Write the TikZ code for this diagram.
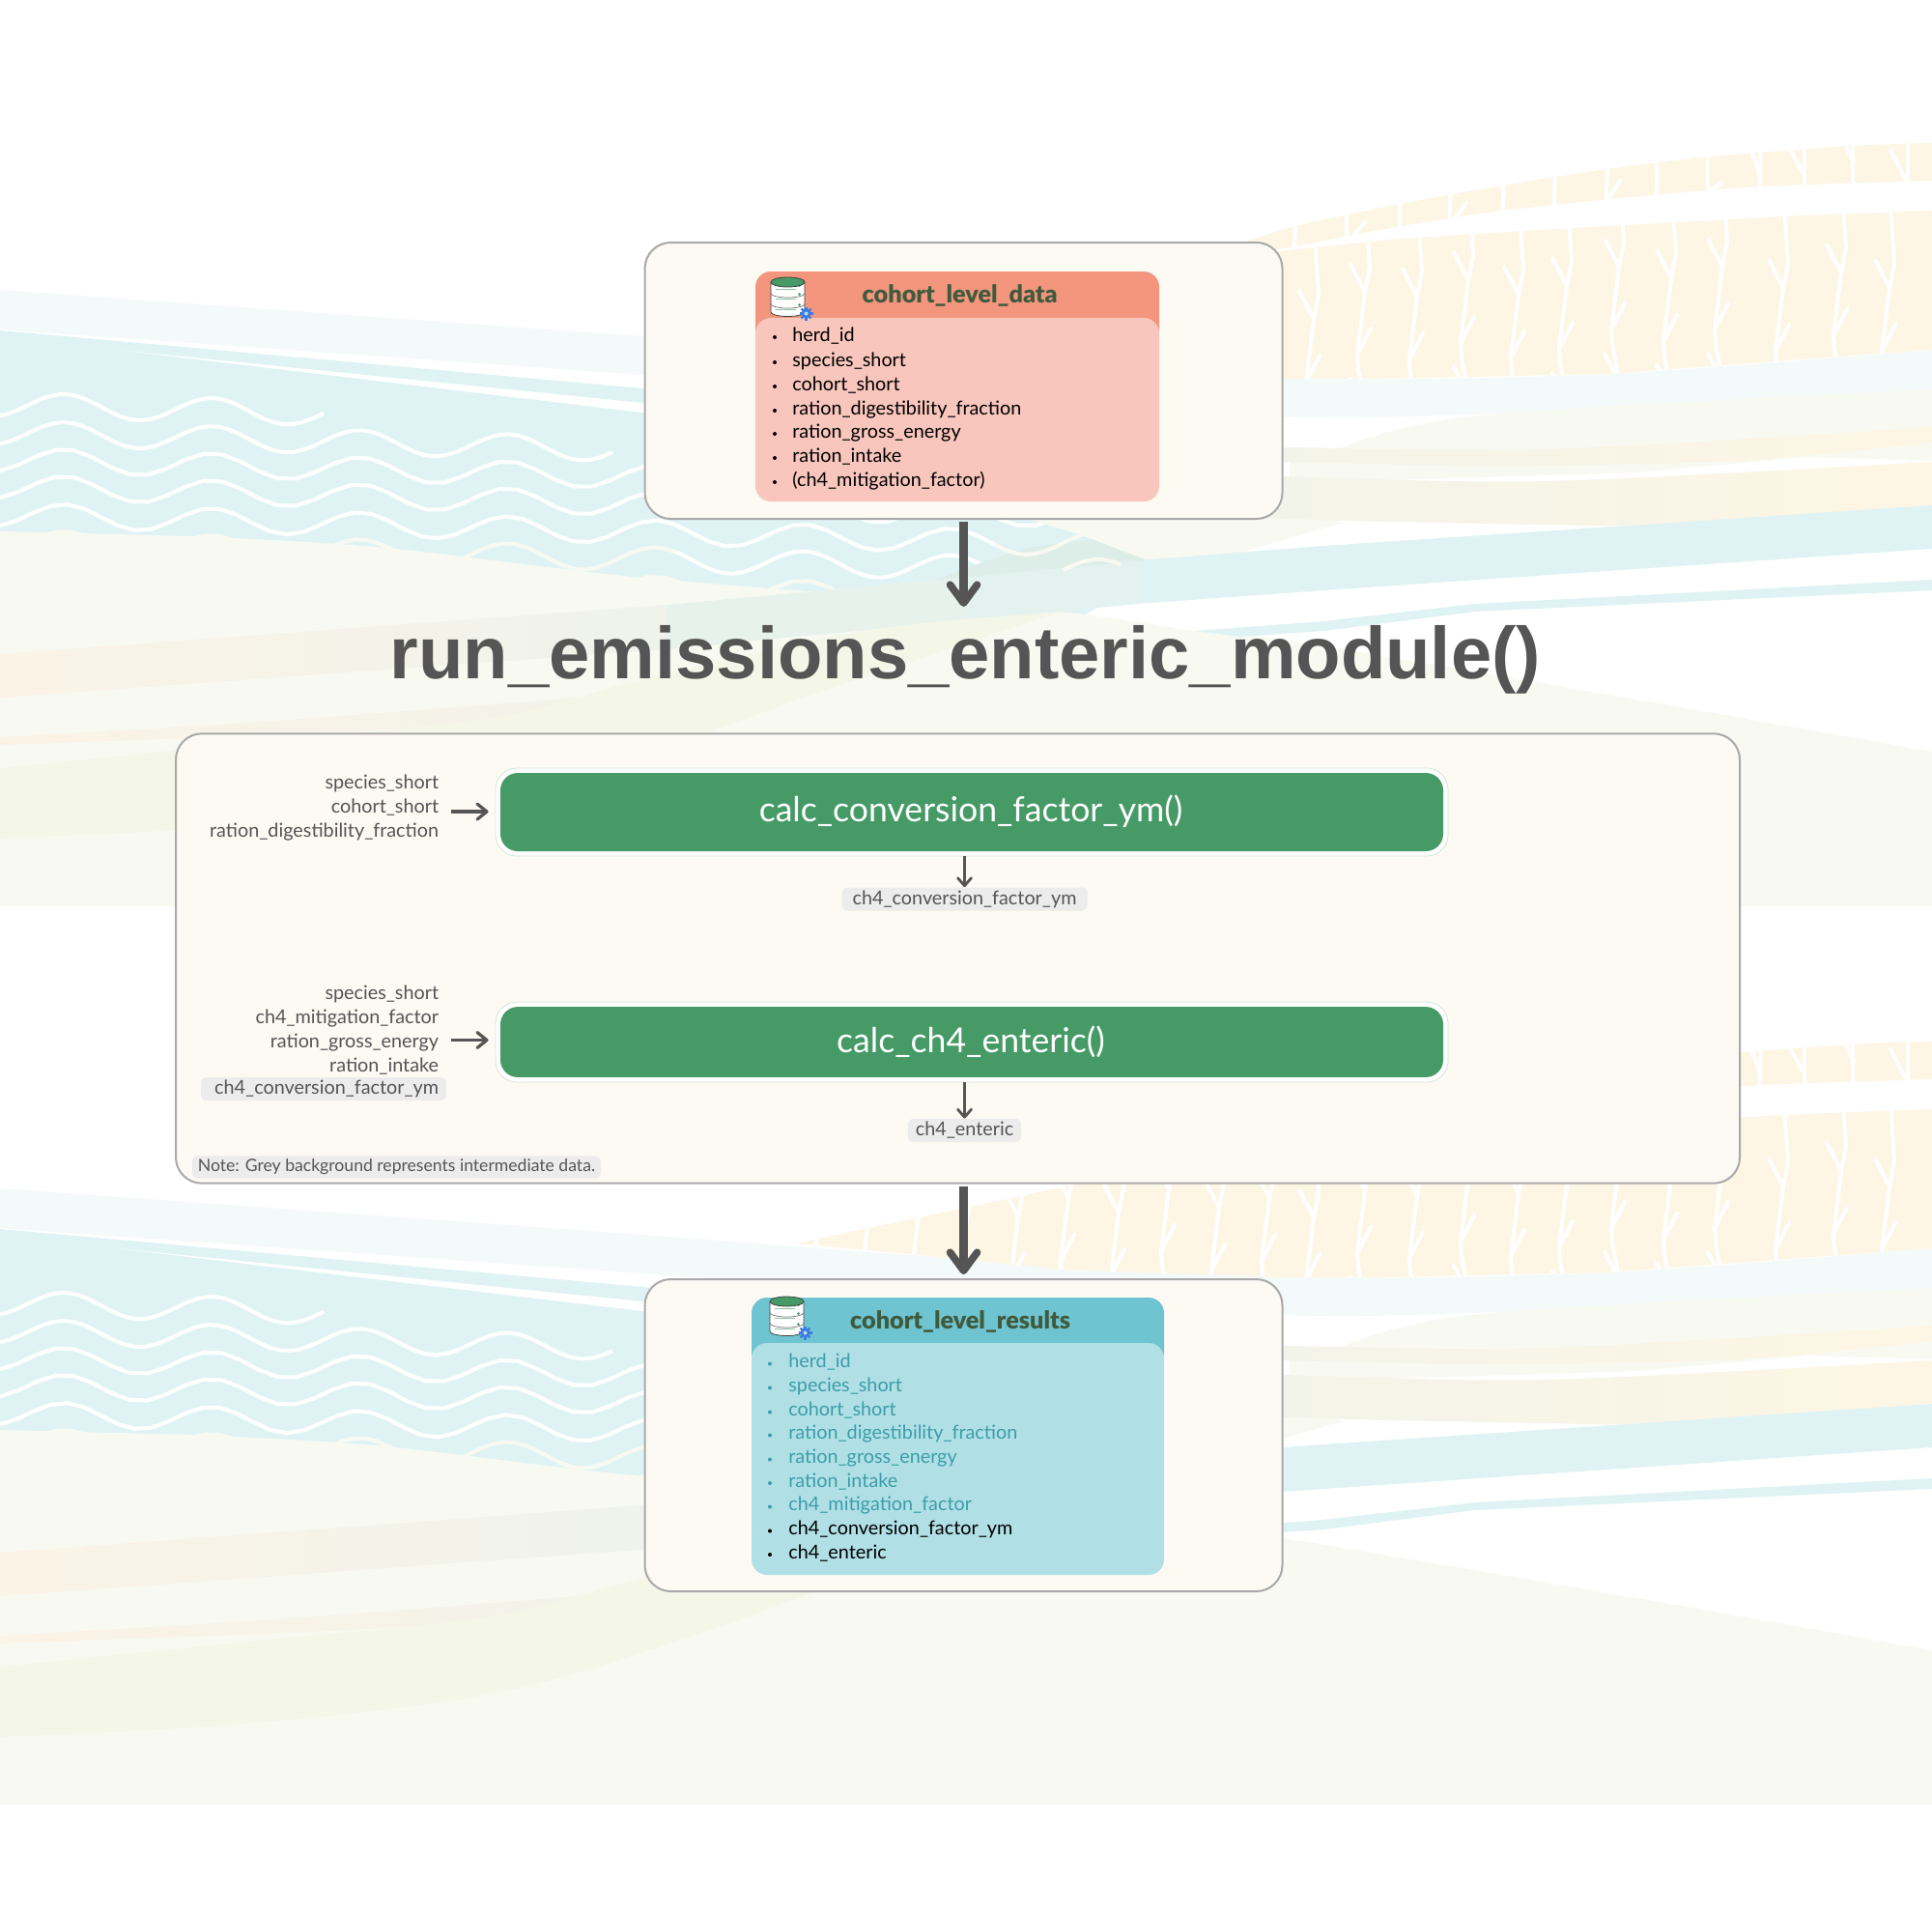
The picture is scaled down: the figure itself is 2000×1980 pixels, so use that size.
\documentclass[tikz,border=0pt]{standalone}
\usepackage{fontspec}
\usetikzlibrary{arrows.meta}
\setmainfont{Lato}
\newfontfamily\titlefont{Liberation Sans}[UprightFont=* Bold]
\newfontfamily\headfont{Lato}[UprightFont=* Black]
\definecolor{paleblue}{HTML}{F3FAF9}
\definecolor{mainblue}{HTML}{DFF3F5}
\definecolor{sand}{HTML}{F8FAF2}
\definecolor{leaf}{HTML}{F4F7E8}
\definecolor{apricot}{HTML}{FEF6E4}
\definecolor{bandL}{HTML}{FBF3E6}
\definecolor{bandR}{HTML}{EFF3EB}
\definecolor{bandM}{HTML}{E8F2EC}
\definecolor{bandN}{HTML}{E3F2EE}
\definecolor{darktri}{HTML}{DDEDE8}
\definecolor{boxfill}{HTML}{FDFAF4}
\definecolor{boxline}{HTML}{A9A9A9}
\definecolor{ink}{HTML}{555555}
\definecolor{funcgreen}{HTML}{469A66}
\definecolor{headred}{HTML}{F4957D}
\definecolor{bodyred}{HTML}{F8C6BC}
\definecolor{headblue}{HTML}{6EC4D1}
\definecolor{bodyblue}{HTML}{B0E0E6}
\definecolor{tealink}{HTML}{3C9DA8}
\definecolor{headink}{HTML}{3F5A3C}
\definecolor{tagfill}{HTML}{ECECEC}
\definecolor{gearblue}{HTML}{3B7DDD}
\tikzset{
  x=0.5pt,y=-0.5pt,
  panel/.style={draw=boxline,line width=1pt,fill=boxfill,rounded corners=13.5pt,inner sep=0pt},
  funcbox/.style={fill=funcgreen,rounded corners=9pt,inner sep=0pt},
  functext/.style={inner sep=0pt,text=white,font=\fontsize{17.8}{20}\selectfont},
  funcring/.style={draw=funcgreen!25,line width=0.4pt,fill=white,rounded corners=11pt,inner sep=0pt},
  listitem/.style={anchor=base west,inner sep=0pt,font=\fontsize{9.9}{12}\selectfont},
  inlabel/.style={anchor=base east,inner sep=0pt,text=ink,font=\fontsize{9.9}{12}\selectfont},
  tag/.style={fill=tagfill,rounded corners=3pt,inner sep=0pt,text=ink,font=\fontsize{9.9}{12}\selectfont},
  bigarrow/.style={draw=ink,line width=4.6pt,-{Straight Barb[length=9.5pt,width=14pt,line width=3.8pt,round]}},
  smallarrow/.style={draw=ink,line width=1.7pt,shorten >=3.5pt,-{Straight Barb[length=5pt,width=8pt,line width=1.6pt,round]}},
  downarrow/.style={draw=ink,line width=1.5pt,-{Straight Barb[length=4pt,width=7pt,line width=1.4pt,round]}},
  wave/.style={line width=2pt},
  twig/.style={draw=white,line width=2pt,line cap=round,line join=round},
}
\newcommand{\wavepart}[4]{% row, from, to, colour
  \draw[wave,draw=#4] plot[domain=#2:#3,samples=60] (\x,{#1+12.5+0.027*(\x-67)-12.5*cos((\x-67)*2.353)});
}
\newcommand{\treeunit}[2]{%
  \draw[twig] ({#1-3},{#2-145}) -- ({#1+5},{#2-25}) -- (#1,#2) -- ({#1-8},{#2+65}) -- ({#1-7},{#2+80}) -- (#1,{#2+118}) -- ({#1+3},{#2+160});
  \draw[twig] ({#1-14.5},{#2-28}) -- (#1,#2);
  \draw[twig] ({#1-8},{#2+65}) -- ({#1+6},{#2+38});
  \draw[twig] ({#1-15},{#2+90}) -- (#1,{#2+118});
}
\newcommand{\bgtile}{%
  \begin{scope}
  \clip (0,0) rectangle (2000,937);
  % pale blue band
  \fill[paleblue] plot[smooth,tension=.5] coordinates {(0,300) (665,348) (982,372) (1335,392) (1664,387) (2000,362)}
     -- plot[smooth,tension=.5] coordinates {(2000,403) (1800,417) (1400,432) (1100,420) (665,388) (0,341)} -- cycle;
  % main blue
  \fill[mainblue] (0,342) -- (665,402) -- (1130,460) -- (1250,560) -- (1100,650) -- (0,650) -- cycle;
  % white streak
  \fill[white] (120,362) -- (665,417) -- (800,435) -- (665,427) -- cycle;
  % waves
  \wavepart{408}{0}{335}{white}
  \wavepart{437}{0}{634}{white}
  \wavepart{465}{0}{1130}{white}
  \wavepart{493}{0}{1130}{white}
  \wavepart{522}{0}{1030}{white}
  \wavepart{550}{0}{700}{sand}
  \wavepart{550}{700}{1040}{white}
  \wavepart{580}{0}{1100}{sand}
  % apricot bands with trees
  \begin{scope}
    \clip plot[smooth,tension=.5] coordinates {(1290,250) (1345,233) (1455,210) (1550,193) (1664,175) (1773,162) (1918,151) (2000,148)}
      -- (2000,187) -- plot[smooth,tension=.5] coordinates {(2000,187) (1823,193) (1709,202) (1555,218) (1445,235) (1323,258) (1290,262)} -- cycle;
    \fill[apricot] (1280,140) rectangle (2000,270);
    \foreach \tx/\ty/\bx in {1343/205/1339,1395/190/1393,1450/175/1448,1502/165/1500,1557/160/1555,1610/150/1608,1665/140/1661,1716/135/1714,1768/125/1767,1823/125/1821,1868/120/1868,1918/120/1918,1975/120/1975}{
      \draw[twig] (\tx,\ty) -- (\bx,270);
    }
    \draw[twig] (1400,245) -- (1413,230);
    \draw[twig] (1505,228) -- (1518,210);
    \draw[twig] (1664,207) -- (1677,187);
    \draw[twig] (1770,197) -- (1782,190);
    \draw[twig] (1555,193) -- (1557,202);
    \draw[twig] (1814,158) -- (1822,182);
    \draw[twig] (1853,155) -- (1866,178);
    \draw[twig] (1911,152) -- (1919,168);
    \draw[twig] (1957,156) -- (1972,185);
  \end{scope}
  \begin{scope}
    \clip (824,357) -- (1132,292) -- (1323,260) -- (1450,247) -- (1609,237) -- (1755,229) -- (1868,223) -- (2000,218)
       -- (2000,362) -- (1664,387) -- (1436,392) -- (1327,392) -- (1100,384) -- (982,372) -- cycle;
    \fill[apricot] (800,210) rectangle (2000,400);
    \foreach \jx/\jy in {846/345,898/340,950/335,1002/325,1054/330,1106/310,1158/325,1210/300,1262/320,1314/310,1360/330,1413/302,1467/307,1520/290,1572/305,1622/296,1676/276,1730/288,1783/276,1846/298,1906/282,1956/298}{
      \treeunit{\jx}{\jy}
    }
  \end{scope}
  % sand hill
  \fill[sand] plot[smooth,tension=.4] coordinates {(0,550) (220,556) (400,567) (665,598) (1097,633) (1237,653) (1335,663) (1700,725) (2000,778)} -- (2000,950) -- (0,950) -- cycle;
  % sand wedge under the top box
  \fill[sand] (1040,530) -- (1117,553) -- (1188,581) -- (1283,572) -- (1390,541) -- (1335,520) -- (1040,520) -- cycle;
  \fill[sand] plot[smooth,tension=.5] coordinates {(1390,463) (1530,430) (2000,403)} -- (2000,480) -- (1335,500) -- (1335,470) -- cycle;
  \fill[white] (1600,498) -- (1870,473) -- (2000,477) -- (2000,500) -- cycle;
  % right ochre bands
  \shade[left color=bandR,right color=apricot] plot[smooth,tension=.5] coordinates {(1080,460) (1330,463) (1600,465) (2000,442)}
    -- plot[smooth,tension=.5] coordinates {(2000,458) (1800,477) (1550,482) (1330,478) (1080,470)} -- cycle;
  \shade[left color=bandR,right color=apricot] plot[smooth,tension=.5] coordinates {(1080,485) (1330,493) (1600,498) (2000,478)}
    -- plot[smooth,tension=.5] coordinates {(2000,523) (1700,543) (1600,543) (1330,537) (1080,525)} -- cycle;
  % long band: apricot at the left, blue at the right
  \shade[left color=bandL,right color=bandR] (0,677) -- (690,626) -- (690,672) -- (0,722) -- cycle;
  \fill[bandM] (690,626) -- (950,602) -- (1000,597) -- (1000,642) -- (950,647) -- (690,672) -- cycle;
  \fill[bandN] (1000,597) -- (1177,580) -- (1177,625) -- (1097,633) -- (1000,642) -- cycle;
  \fill[mainblue!94!bandN] (1177,580) -- (1370,565) -- (2000,523) -- (2000,568) -- (1370,611) -- (1177,625) -- cycle;
  % darker triangle over the band
  \fill[darktri] (970,600) -- (1022,580) -- (1063,567) -- (1130,558) -- (1188,580) -- (1000,597) -- cycle;
  % waves seen through the band
  \wavepart{522}{1030}{1120}{sand}
  \wavepart{550}{1100}{1160}{sand}
  % band D
  \fill[mainblue] (1237,653) -- (1370,643) -- (1527,625) -- (2000,600) -- (2000,611) -- (1527,633) -- (1370,653) -- (1283,659) -- cycle;
  % second left band
  \shade[left color=bandL,right color=bandR] plot[smooth,tension=.5] coordinates {(0,763) (300,745) (670,716) (900,695)}
     -- plot[smooth,tension=.5] coordinates {(900,697) (670,730) (400,755) (0,771)} -- cycle;
  % leaf lens
  \fill[leaf] plot[smooth,tension=.6] coordinates {(0,795) (255,769) (510,743) (670,702) (900,652) (1097,634)}
     -- plot[smooth,tension=.6] coordinates {(1097,634) (855,714) (700,769) (510,823) (255,854) (0,868)} -- cycle;
  \end{scope}
}
\newcommand{\dbicon}[2]{%
  \begin{scope}[shift={(#1,#2)}]
    \draw[black!75,line width=0.4pt,fill=white] (-17.5,-15) -- (-17.5,15.5) arc[start angle=180,end angle=360,x radius=17.5,y radius=-4.5] -- (17.5,-15) -- cycle;
    \foreach \yy in {-4,7}{
      \draw[black!55,line width=0.35pt] (-17.5,\yy) arc[start angle=180,end angle=360,x radius=17.5,y radius=-4.5];
      \draw[funcgreen!60,line width=0.3pt] (-13,{\yy+6}) -- (8,{\yy+6});
      \fill[funcgreen] (12,{\yy+1}) circle[radius=1.5];
    }
    \fill[funcgreen] (12,-12) circle[radius=1.5];
    \draw[funcgreen!60,line width=0.3pt] (-13,-8) -- (8,-8);
    \draw[black!75,line width=0.4pt,fill=funcgreen] (0,-15.5) ellipse[x radius=17.5,y radius=5];
    \fill[gearblue] (19,17) circle[radius=5];
    \foreach \a in {0,45,...,315}{\draw[gearblue,line width=1.1pt] (19,17) -- ++(\a:7);}
    \fill[white!70!gearblue] (19,17) circle[radius=2];
  \end{scope}
}
\begin{document}
\begin{tikzpicture}
\useasboundingbox (0,0) rectangle (2000,1980);
\fill[white] (0,0) rectangle (2000,1980);
\bgtile
\begin{scope}[shift={(0,930)}]\bgtile\end{scope}

% top panel
\node[panel,minimum width=330pt,minimum height=143pt] (src) at (997.5,394) {};
\fill[headred,rounded corners=8pt] (782,281) rectangle (1200,358);
\node[fill=bodyred,rounded corners=8pt,inner sep=0pt,minimum width=209pt,minimum height=95pt] (srcbody) at (991,424) {};
\dbicon{815.5}{307.5}
\node[inner sep=0pt,text=headink,font=\fontsize{12.6}{15}\headfont] (srctitle) at (993.6,305.5) {cohort\_level\_data};
\foreach \n/\yb/\tx in {1/353/herd\_id,2/379/species\_short,3/404/cohort\_short,4/429/ration\_digestibility\_fraction,5/453/ration\_gross\_energy,6/478/ration\_intake,7/503/(ch4\_mitigation\_factor)}{
  \node[listitem] (srci\n) at (820,\yb) {\tx};
  \fill (802,{\yb-4}) circle[radius=2];
}

% bottom panel
\node[panel,minimum width=330pt,minimum height=161.5pt] (res) at (997.5,1485.5) {};
\fill[headblue,rounded corners=8pt] (778,1343) rectangle (1205,1420);
\node[fill=bodyblue,rounded corners=8pt,inner sep=0pt,minimum width=213.5pt,minimum height=120pt] (resbody) at (991.5,1510) {};
\dbicon{814.5}{1362.5}
\node[inner sep=0pt,text=headink,font=\fontsize{12.6}{15}\headfont] (restitle) at (994,1368) {cohort\_level\_results};
\foreach \n/\yb/\tx/\cc in {1/1415.5/herd\_id/tealink,2/1440.5/species\_short/tealink,3/1465.5/cohort\_short/tealink,4/1489.5/ration\_digestibility\_fraction/tealink,5/1514.5/ration\_gross\_energy/tealink,6/1539/ration\_intake/tealink,7/1563.5/ch4\_mitigation\_factor/tealink,8/1588.5/ch4\_conversion\_factor\_ym/black,9/1613/ch4\_enteric/black}{
  \node[listitem,text=\cc] (resi\n) at (816,\yb) {\tx};
  \fill[\cc] (797,{\yb-4}) circle[radius=2];
}

% title
\node[inner sep=0pt,anchor=base,text=ink,font=\fontsize{38}{44}\titlefont] (ttl) at (999.5,702) {run\_emissions\_enteric\_module()};

% main panel
\node[panel,minimum width=809.5pt,minimum height=232.7pt] (main) at (991.5,992) {};
\node[funcring,minimum width=493pt,minimum height=45.5pt] (ring1) at (1006,840.5) {};
\node[funcbox,minimum width=488pt,minimum height=40.5pt] (f1) at (1006,840.5) {};
\node[functext] (f1t) at (1005,839.5) {calc\_conversion\_factor\_ym()};
\node[funcring,minimum width=493pt,minimum height=41.5pt] (ring2) at (1006,1078.5) {};
\node[funcbox,minimum width=488pt,minimum height=36.4pt] (f2) at (1006,1078.5) {};
\node[functext] (f2t) at (1005,1078.5) {calc\_ch4\_enteric()};

% input labels
\foreach \n/\yb/\tx in {1/816.5/species\_short,2/841.5/cohort\_short,3/866.5/ration\_digestibility\_fraction}{
  \node[inlabel] (ia\n) at (454.5,\yb) {\tx};
}
\foreach \n/\yb/\tx in {1/1034.5/species\_short,2/1059.5/ch4\_mitigation\_factor,3/1084.5/ration\_gross\_energy,4/1109.5/ration\_intake}{
  \node[inlabel] (ib\n) at (454.5,\yb) {\tx};
}
\node[tag,minimum width=127pt,minimum height=12pt] (tagin) at (335,1127) {};
\node[inlabel] (ib5) at (454.5,1132) {ch4\_conversion\_factor\_ym};

% outputs
\node[tag,minimum width=127pt,minimum height=12pt] (out1) at (998.5,930.5) {ch4\_conversion\_factor\_ym};
\node[tag,minimum width=58.7pt,minimum height=12pt] (out2) at (998.5,1170) {ch4\_enteric};
\node[tag,minimum width=211.5pt,minimum height=11.7pt,font=\fontsize{8.8}{10}\selectfont] (note) at (410.5,1208) {\raisebox{-0.5pt}{Note: Grey background represents intermediate data.}};

% connectors
\coordinate (a1) at (997.5,628);
\coordinate (s1) at (467,840);
\coordinate (s2) at (467,1076.5);
\draw[bigarrow,shorten <=1pt] (src.south) -- (a1);
\draw[bigarrow,shorten <=1pt,shorten >=2pt] (main.south -| res.north) -- (res.north);
\draw[smallarrow] (s1) -- (s1 -| ring1.west);
\draw[smallarrow] (s2) -- (s2 -| ring2.west);
\draw[downarrow] (ring1.south -| out1.north) -- (out1.north);
\draw[downarrow] (ring2.south -| out2.north) -- (out2.north);
\end{tikzpicture}
\end{document}
